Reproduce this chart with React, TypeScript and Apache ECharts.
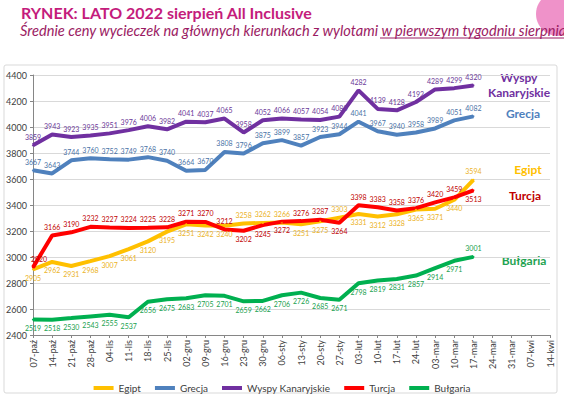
import { useEffect, useRef } from 'react';
import * as echarts from 'echarts';

const categories = [
  '07-paź', '14-paź', '21-paź', '28-paź', '04-lis', '11-lis', '18-lis', '25-lis',
  '02-gru', '09-gru', '16-gru', '23-gru', '30-gru', '06-sty', '13-sty', '20-sty',
  '27-sty', '03-lut', '10-lut', '17-lut', '24-lut', '03-mar', '10-mar', '17-mar',
  '24-mar', '31-mar', '07-kwi', '14-kwi',
];

const egipt = [2905, 2962, 2931, 2968, 3007, 3061, 3120, 3195, 3251, 3242, 3240, 3258, 3262, 3266, 3251, 3275, 3303, 3331, 3312, 3328, 3365, 3371, 3440, 3594];
const grecja = [3667, 3643, 3744, 3760, 3752, 3749, 3768, 3740, 3664, 3670, 3808, 3796, 3875, 3899, 3857, 3923, 3944, 4041, 3967, 3940, 3958, 3989, 4051, 4082];
const wyspy = [3859, 3943, 3923, 3935, 3951, 3976, 4006, 3982, 4041, 4037, 4065, 3958, 4052, 4066, 4057, 4054, 4080, 4282, 4139, 4128, 4192, 4289, 4299, 4320];
const turcja = [2920, 3166, 3190, 3232, 3227, 3224, 3225, 3228, 3271, 3270, 3212, 3202, 3245, 3272, 3276, 3287, 3264, 3398, 3383, 3358, 3376, 3420, 3459, 3513];
const bulgaria = [2519, 2518, 2530, 2543, 2555, 2537, 2656, 2675, 2683, 2705, 2701, 2659, 2662, 2706, 2726, 2685, 2671, 2798, 2819, 2831, 2857, 2914, 2971, 3001];

const yTicks = { min: 2400, max: 4400, interval: 200 };

const FONT = 'Lato, "Open Sans", sans-serif';

function makeSeries(
  name: string,
  values: number[],
  lineColor: string,
  labelColor: string,
  pos: (i: number) => any
) {
  return {
    name,
    type: 'line',
    data: values.map((v, i) => ({ value: v, label: pos(i) })),
    symbol: 'circle',
    symbolSize: 2,
    lineStyle: { width: 4, color: lineColor },
    itemStyle: { color: lineColor },
    label: {
      show: true,
      fontSize: 7,
      fontFamily: FONT,
      fontWeight: 'normal',
      color: labelColor,
      distance: 4,
    },
  };
}

export default function App() {
  const ref = useRef<HTMLDivElement>(null);
  useEffect(() => {
    const chart = echarts.init(ref.current!, null, { renderer: 'svg' });
    const egiptAbove = new Set([11, 12, 13, 16, 23]);
    const turcjaBelow = new Set([11, 12, 13, 16, 23]);
    const option: any = {
      animation: false,
      backgroundColor: '#ffffff',
      textStyle: { fontFamily: FONT },
      grid: { left: 33, right: 14, top: 75, bottom: 63, containLabel: false },
      xAxis: {
        type: 'category',
        data: categories,
        boundaryGap: false,
        axisLine: { lineStyle: { color: '#868686', width: 1 } },
        axisTick: { show: true, length: 3, lineStyle: { color: '#868686' } },
        axisLabel: { rotate: 90, fontSize: 9, color: '#404040', margin: 5, interval: 0, fontFamily: FONT },
        splitLine: { show: false },
      },
      yAxis: {
        type: 'value',
        min: yTicks.min,
        max: yTicks.max,
        interval: yTicks.interval,
        axisLine: { show: true, lineStyle: { color: '#868686', width: 1 } },
        axisTick: { show: true, length: 3, lineStyle: { color: '#868686' } },
        axisLabel: { fontSize: 9, color: '#404040', margin: 6, fontFamily: FONT, formatter: (v: number) => String(v) },
        splitLine: { show: true, lineStyle: { color: '#d9d9d9', width: 1 } },
      },
      legend: {
        left: 'center',
        top: 378,
        icon: 'rect',
        itemWidth: 20,
        itemHeight: 4,
        itemGap: 14,
        textStyle: { fontSize: 10, color: '#404040', fontFamily: FONT },
        data: ['Egipt', 'Grecja', 'Wyspy Kanaryjskie', 'Turcja', 'Bułgaria'],
      },
      series: [
        makeSeries('Egipt', egipt, '#FFC000', '#EBB21E', (i) => ({ position: egiptAbove.has(i) ? 'top' : 'bottom' })),
        makeSeries('Grecja', grecja, '#4F81BD', '#4A72A6', () => ({ position: 'top' })),
        makeSeries('Wyspy Kanaryjskie', wyspy, '#7030A0', '#6B3898', () => ({ position: 'top' })),
        makeSeries('Turcja', turcja, '#FF0000', '#C00000', (i) =>
          i === 0 ? { position: 'top', offset: [6, 0] } : { position: turcjaBelow.has(i) ? 'bottom' : 'top' }
        ),
        makeSeries('Bułgaria', bulgaria, '#00B050', '#17A04E', (i) => ({ position: i === bulgaria.length - 1 ? 'top' : 'bottom' })),
      ],
      graphic: [
        {
          type: 'rect',
          shape: { x: 4, y: 65, width: 553, height: 328, r: 2 },
          style: { fill: 'none', stroke: '#d9d9d9', lineWidth: 1 },
          z: -10,
          silent: true,
        },
        {
          type: 'circle',
          shape: { cx: 558, cy: 14, r: 22 },
          style: { fill: '#EC7FC0', opacity: 0.85 },
          silent: true,
        },
        {
          type: 'text',
          x: 21,
          y: 12,
          style: {
            text: 'RYNEK: LATO 2022 sierpień All Inclusive',
            font: 'bold 16px ' + FONT,
            fill: '#C41C7C',
            textVerticalAlign: 'middle',
          },
        },
        {
          type: 'text',
          x: 20,
          y: 30,
          style: {
            text: 'Średnie ceny wycieczek na głównych kierunkach z wylotami w pierwszym tygodniu sierpnia',
            font: 'italic 14.6px ' + FONT,
            fill: '#9B1B63',
            textVerticalAlign: 'middle',
          },
        },
        {
          type: 'line',
          shape: { x1: 380, y1: 38, x2: 564, y2: 38 },
          style: { stroke: '#9B1B63', lineWidth: 1 },
        },
        {
          type: 'text',
          x: 519,
          y: 77,
          style: { text: 'Wyspy', font: 'bold 12px ' + FONT, fill: '#7030A0', textAlign: 'center', textVerticalAlign: 'middle' },
        },
        {
          type: 'text',
          x: 519,
          y: 92,
          style: { text: 'Kanaryjskie', font: 'bold 12px ' + FONT, fill: '#7030A0', textAlign: 'center', textVerticalAlign: 'middle' },
        },
        {
          type: 'text',
          x: 523,
          y: 113,
          style: { text: 'Grecja', font: 'bold 12px ' + FONT, fill: '#4F81BD', textAlign: 'center', textVerticalAlign: 'middle' },
        },
        {
          type: 'text',
          x: 528,
          y: 169,
          style: { text: 'Egipt', font: 'bold 12px ' + FONT, fill: '#FFC000', textAlign: 'center', textVerticalAlign: 'middle' },
        },
        {
          type: 'text',
          x: 525,
          y: 195,
          style: { text: 'Turcja', font: 'bold 12px ' + FONT, fill: '#C00000', textAlign: 'center', textVerticalAlign: 'middle' },
        },
        {
          type: 'text',
          x: 524,
          y: 260,
          style: { text: 'Bułgaria', font: 'bold 12px ' + FONT, fill: '#1FA352', textAlign: 'center', textVerticalAlign: 'middle' },
        },
      ],
    };
    chart.setOption(option);
    return () => chart.dispose();
  }, []);
  return (
    <div
      ref={ref}
      style={{ position: 'absolute', left: 0, top: 0, width: 564, height: 398, background: '#fff' }}
    />
  );
}
